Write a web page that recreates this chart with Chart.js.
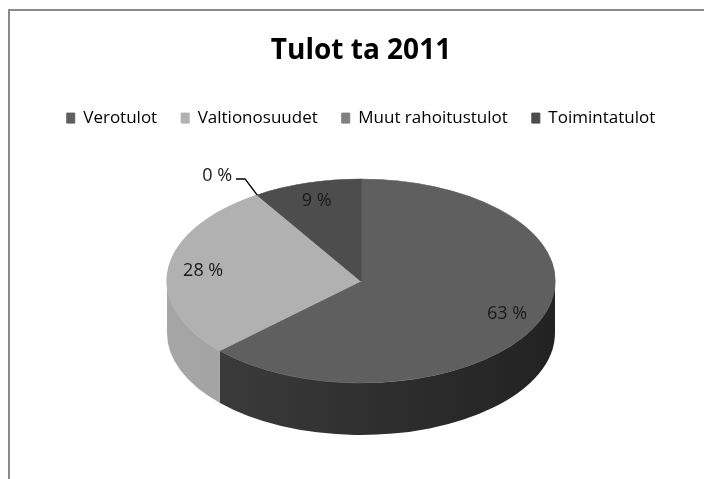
<!DOCTYPE html>
<html>
<head>
<meta charset="utf-8">
<script src="https://cdn.jsdelivr.net/npm/chart.js@4/dist/chart.umd.min.js"></script>
<style>
  html, body { margin: 0; padding: 0; background: #fff; }
  #wrap { position: relative; width: 704px; height: 479px; overflow: hidden; }
  #frame { position: absolute; left: 8px; top: 9px; width: 800px; height: 600px;
           border-left: 2px solid #8a8a8a; border-top: 2px solid #8a8a8a; }
  canvas { position: absolute; left: 0; top: 0; }
</style>
</head>
<body>
<div id="wrap">
  <div id="frame"></div>
  <canvas id="myChart" width="704" height="479"></canvas>
</div>
<script>
const categories = ['Verotulot', 'Valtionosuudet', 'Muut rahoitustulot', 'Toimintatulot'];
const shares = [63, 28, 0, 9];
const percentLabels = ['63 %', '28 %', '0 %', '9 %'];
const topColors = ['#5f5f5f', '#b1b1b1', '#808080', '#4d4d4d'];
const sideColors = [['#3e3e3e', '#222222'], ['#a6a6a6', '#939393'], ['#6a6a6a', '#6a6a6a'], ['#3a3a3a', '#3a3a3a']];

// fake 3d look
const PIE_RX = 194;
const PIE_RY = 102;
const PIE_CY = 281;
const DEPTH = 52;

function visibleRange(a0, a1) {
  // front half of the ellipse is 0..PI (canvas angles)
  const ranges = [];
  [0, 2 * Math.PI].forEach(function (off) {
    const s = Math.max(a0, off), e = Math.min(a1, off + Math.PI);
    if (e > s) ranges.push([s, e]);
  });
  return ranges;
}

const tiltPlugin = {
  id: 'tilt',
  beforeDatasetsDraw(chart) {
    const ctx = chart.ctx;
    const meta = chart.getDatasetMeta(0);
    meta.data.forEach(function (arc, i) {
      visibleRange(arc.startAngle, arc.endAngle).forEach(function (r) {
        const cx = arc.x;
        const g = ctx.createLinearGradient(cx - PIE_RX, 0, cx + PIE_RX, 0);
        g.addColorStop(0, sideColors[i][0]);
        g.addColorStop(1, sideColors[i][1]);
        ctx.save();
        ctx.beginPath();
        ctx.ellipse(cx, PIE_CY, PIE_RX, PIE_RY, 0, r[0], r[1]);
        ctx.ellipse(cx, PIE_CY + DEPTH, PIE_RX, PIE_RY, 0, r[1], r[0], true);
        ctx.closePath();
        ctx.fillStyle = g;
        ctx.fill();
        ctx.restore();
      });
    });
  },
  beforeDatasetDraw(chart, args) {
    const ctx = chart.ctx;
    const arc = args.meta.data[0];
    const sx = PIE_RX / arc.outerRadius, sy = PIE_RY / arc.outerRadius;
    ctx.save();
    ctx.translate(arc.x, PIE_CY);
    ctx.scale(sx, sy);
    ctx.translate(-arc.x, -arc.y);
  },
  afterDatasetDraw(chart) {
    chart.ctx.restore();
  },
  afterDatasetsDraw(chart) {
    const ctx = chart.ctx;
    const meta = chart.getDatasetMeta(0);
    ctx.save();
    ctx.font = '18px "Open Sans"';
    ctx.fillStyle = '#1a1a1a';
    ctx.textBaseline = 'middle';
    meta.data.forEach(function (arc, i) {
      if (shares[i] > 0) {
        const mid = (arc.startAngle + arc.endAngle) / 2;
        const x = arc.x + PIE_RX * 0.82 * Math.cos(mid);
        const y = PIE_CY + PIE_RY * 0.82 * Math.sin(mid);
        ctx.textAlign = 'center';
        ctx.fillText(percentLabels[i], x, y);
      } else {
        // zero slice gets a leader line
        const a = arc.startAngle;
        const x0 = arc.x + PIE_RX * Math.cos(a), y0 = PIE_CY + PIE_RY * Math.sin(a);
        const x1 = x0 - 12, y1 = y0 - 16, x2 = x1 - 9;
        ctx.beginPath();
        ctx.moveTo(x0, y0);
        ctx.lineTo(x1, y1);
        ctx.lineTo(x2, y1);
        ctx.strokeStyle = '#000';
        ctx.lineWidth = 1.5;
        ctx.stroke();
        ctx.textAlign = 'right';
        ctx.fillText(percentLabels[i], x2 - 4, y1 - 3);
      }
    });
    ctx.restore();
  }
};

new Chart(document.getElementById('myChart'), {
  type: 'pie',
  data: {
    labels: categories,
    datasets: [{
      data: shares,
      backgroundColor: topColors,
      borderColor: topColors,
      borderWidth: 1,
      clip: false
    }]
  },
  options: {
    responsive: false,
    animation: false,
    layout: { padding: { left: 18 } },
    plugins: {
      title: {
        display: true,
        text: 'Tulot ta 2011',
        color: '#000',
        font: { family: '"Open Sans"', size: 28, weight: 'bold' },
        padding: { top: 34, bottom: 18 }
      },
      legend: {
        position: 'top',
        labels: {
          color: '#000',
          font: { family: '"Open Sans"', size: 17 },
          boxWidth: 8,
          boxHeight: 10,
          padding: 24
        }
      },
      tooltip: { enabled: false }
    }
  },
  plugins: [tiltPlugin]
});
</script>
</body>
</html>
